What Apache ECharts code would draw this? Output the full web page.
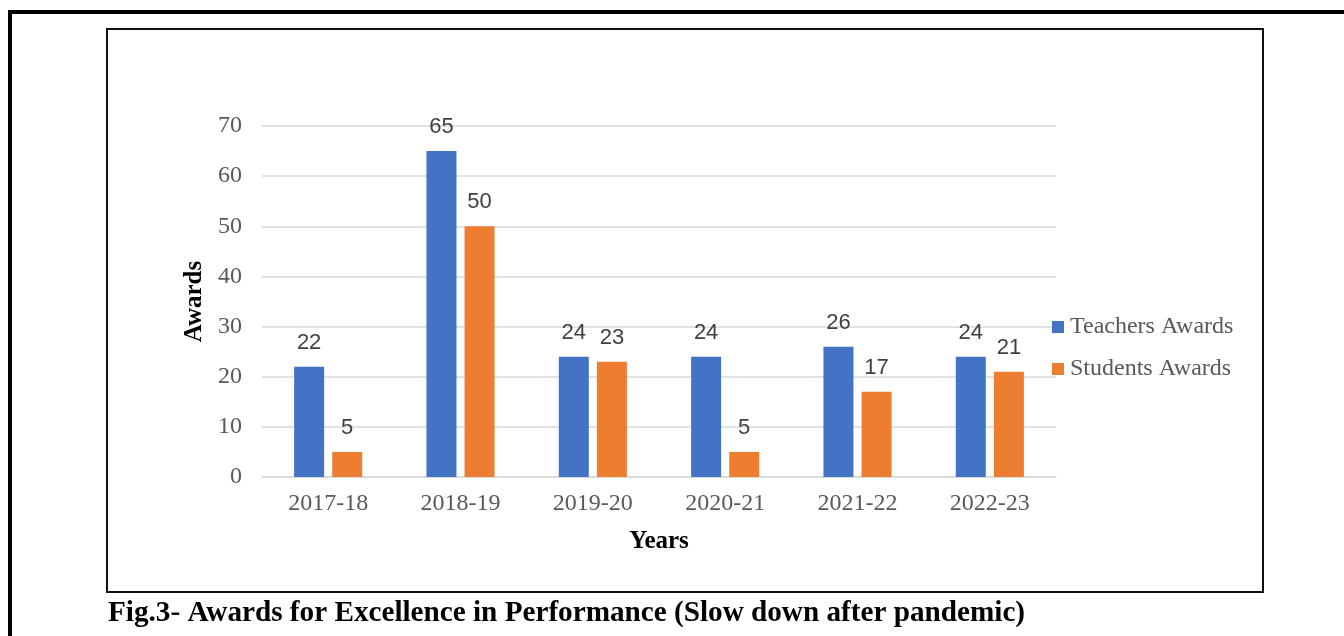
<!DOCTYPE html>
<html>
<head>
<meta charset="utf-8">
<script src="https://cdn.jsdelivr.net/npm/echarts@6/dist/echarts.min.js"></script>
<style>
html,body{margin:0;padding:0;background:#fff;}
#chart{width:1344px;height:636px;}
</style>
</head>
<body>
<div id="chart"></div>
<script>
const categories = ['2017-18','2018-19','2019-20','2020-21','2021-22','2022-23'];
const teachersAwards = [22,65,24,24,26,24];
const studentsAwards = [5,50,23,5,17,21];
const seriesNames = ['Teachers Awards','Students Awards'];
const yTicks = {min:0, max:70, interval:10};
const captionText = 'Fig.3- Awards for Excellence in Performance (Slow down after pandemic)';

const serif = '"Liberation Serif", "Times New Roman", serif';
const sans = '"Liberation Sans", "Noto Sans", Arial, sans-serif';

const chart = echarts.init(document.getElementById('chart'), null, {renderer:'canvas'});
const labelStyle = {show:true, position:'top', distance:13, color:'#404040', fontFamily:sans, fontSize:22};

chart.setOption({
  animation:false,
  backgroundColor:'#fff',
  title:{
    text:captionText, left:108, top:599, padding:0,
    textStyle:{fontFamily:serif, fontWeight:'bold', fontSize:29.2, color:'#000'}
  },
  legend:{
    orient:'vertical', left:1052, top:315, padding:0, itemWidth:12, itemHeight:12, itemGap:18,
    icon:'rect',
    textStyle:{fontFamily:serif, fontSize:24, color:'#595959', padding:[0,0,0,1]},
    data:seriesNames
  },
  grid:{left:262, right:288, top:126, bottom:159},
  xAxis:{
    type:'category', data:categories,
    axisLine:{lineStyle:{color:'#d9d9d9', width:1.5}},
    axisTick:{show:false},
    axisLabel:{fontFamily:serif, fontSize:24, color:'#595959', margin:15},
    name:'Years', nameLocation:'middle', nameGap:52,
    nameTextStyle:{fontFamily:serif, fontWeight:'bold', fontSize:25, color:'#000'}
  },
  yAxis:{
    type:'value', min:yTicks.min, max:yTicks.max, interval:yTicks.interval,
    axisLine:{show:false}, axisTick:{show:false},
    splitLine:{lineStyle:{color:'#d9d9d9', width:1.5}},
    axisLabel:{fontFamily:serif, fontSize:24, color:'#595959', margin:20},
    name:'Awards', nameLocation:'middle', nameGap:48, nameRotate:90,
    nameTextStyle:{fontFamily:serif, fontWeight:'bold', fontSize:25, color:'#000'}
  },
  series:[
    {name:seriesNames[0], type:'bar', data:teachersAwards, barWidth:30, barGap:'27%',
     itemStyle:{color:'#4472C4'}, label:labelStyle},
    {name:seriesNames[1], type:'bar', data:studentsAwards, barWidth:30, barGap:'27%',
     itemStyle:{color:'#ED7D31'}, label:labelStyle}
  ],
  graphic:[
    {type:'rect', shape:{x:107, y:29, width:1156, height:563}, style:{fill:null, stroke:'#111', lineWidth:2}, silent:true},
    {type:'rect', shape:{x:8, y:10, width:1336, height:4}, style:{fill:'#000'}, silent:true},
    {type:'rect', shape:{x:8, y:10, width:4, height:626}, style:{fill:'#000'}, silent:true}
  ]
});
</script>
</body>
</html>
